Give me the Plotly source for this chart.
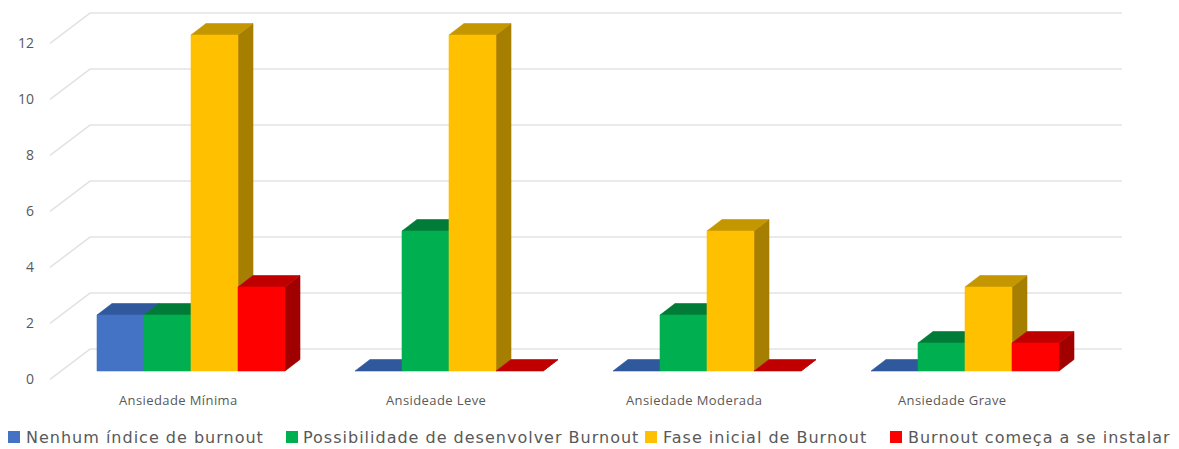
import plotly.graph_objects as go

# --- data -------------------------------------------------------------
categories = ["Ansiedade Mínima", "Ansideade Leve", "Ansiedade Moderada", "Ansiedade Grave"]
series_names = [
    "Nenhum índice de burnout",
    "Possibilidade de desenvolver Burnout",
    "Fase inicial de Burnout",
    "Burnout começa a se instalar",
]
nenhum = [2, 0, 0, 0]
possibilidade = [2, 5, 2, 1]
fase_inicial = [12, 12, 5, 3]
comeca = [3, 0, 0, 1]
y_ticks = [0, 2, 4, 6, 8, 10, 12]

series_values = [nenhum, possibilidade, fase_inicial, comeca]

# front / top / side shades for each series
front_colors = ["#4472C4", "#00B050", "#FFC000", "#FF0000"]
top_colors = ["#30589C", "#007C38", "#C49600", "#C00000"]
side_colors = ["#26467C", "#006A30", "#A67E00", "#A00000"]

# --- geometry (x in category units, y in value units) ------------------
W, H = 1179, 449
PX_X = 258.0          # pixels per category step
PX_Y = 28.0           # pixels per value unit
X0_PX, Y0_PX = 191.0, 371.0   # pixel of category 0 centre / value 0 (bar front plane)

x_range = [-X0_PX / PX_X, (W - X0_PX) / PX_X]
y_range = [(Y0_PX - H) / PX_Y, Y0_PX / PX_Y]

bar_w = 47.0 / PX_X
dx = 15.0 / PX_X
dy = 11.5 / PX_Y


def px_to_x(px):
    return (px - X0_PX) / PX_X


fig = go.Figure()

# back wall gridlines and side-wall diagonals
wall_dy = 22.0 / PX_Y
front_dy = -0.3
gx, gy = [], []
for v in y_ticks:
    gx += [px_to_x(50), px_to_x(90), px_to_x(1122), None]
    gy += [v + front_dy, v + wall_dy, v + wall_dy, None]
fig.add_trace(go.Scatter(x=gx, y=gy, mode="lines", line=dict(color="#E3E3E3", width=1.6),
                         hoverinfo="skip", showlegend=False))


def add_poly(xs, ys, color, name):
    fig.add_trace(go.Scatter(x=xs, y=ys, mode="lines", fill="toself", fillcolor=color,
                             line=dict(color=color, width=0.6), name=name,
                             hoverinfo="skip", showlegend=False))


# bars: for each series draw side, top, front so right-hand bars hide left sides
for j, (vals, name) in enumerate(zip(series_values, series_names)):
    sx, sy, tx, ty, fx, fy = [], [], [], [], [], []
    for i, v in enumerate(vals):
        left = i + (j - 2) * bar_w
        right = left + bar_w
        # side face
        sx += [right, right + dx, right + dx, right, right, None]
        sy += [0, dy, v + dy, v, 0, None]
        # top face
        tx += [left, right, right + dx, left + dx, left, None]
        ty += [v, v, v + dy, v + dy, v, None]
        # front face
        if v > 0:
            fx += [left, right, right, left, left, None]
            fy += [0, 0, v, v, 0, None]
    add_poly(sx, sy, side_colors[j], name)
    add_poly(tx, ty, top_colors[j], name)
    if fx:
        add_poly(fx, fy, front_colors[j], name)


def spaced(text, px):
    return f'<span style="letter-spacing:{px}px">{text}</span>'


annotations = []
# value axis labels
for v in y_ticks:
    annotations.append(dict(x=px_to_x(36), y=v - 0.25, xref="x", yref="y", text=str(v),
                            showarrow=False, xanchor="right", yanchor="middle",
                            font=dict(size=14, color="#595959", family="Open Sans")))
# category labels
for i, c in enumerate(categories):
    annotations.append(dict(x=i - 13.0 / PX_X, y=(Y0_PX - 400) / PX_Y, xref="x", yref="y",
                            text=spaced(c, 0.4), showarrow=False, xanchor="center",
                            yanchor="middle",
                            font=dict(size=13, color="#595959", family="Open Sans")))

# legend row
legend_sq = [8, 286, 645, 890]
legend_tx = [24, 301, 661, 906]
shapes = []
ly = 437
for k, name in enumerate(series_names):
    shapes.append(dict(type="rect", xref="paper", yref="paper",
                       x0=legend_sq[k] / W, x1=(legend_sq[k] + 12) / W,
                       y0=1 - (ly + 6) / H, y1=1 - (ly - 6) / H,
                       fillcolor=front_colors[k], line=dict(width=0)))
    annotations.append(dict(x=legend_tx[k] / W, y=1 - ly / H, xref="paper", yref="paper",
                            text=spaced(name, 1), showarrow=False, xanchor="left",
                            yanchor="middle",
                            font=dict(size=16, color="#595959", family="DejaVu Sans")))

fig.update_layout(
    width=W, height=H,
    margin=dict(l=0, r=0, t=0, b=0),
    paper_bgcolor="white", plot_bgcolor="white",
    xaxis=dict(range=x_range, visible=False, fixedrange=True),
    yaxis=dict(range=y_range, visible=False, fixedrange=True),
    showlegend=False,
    annotations=annotations,
    shapes=shapes,
)

fig.write_html("out.html")
